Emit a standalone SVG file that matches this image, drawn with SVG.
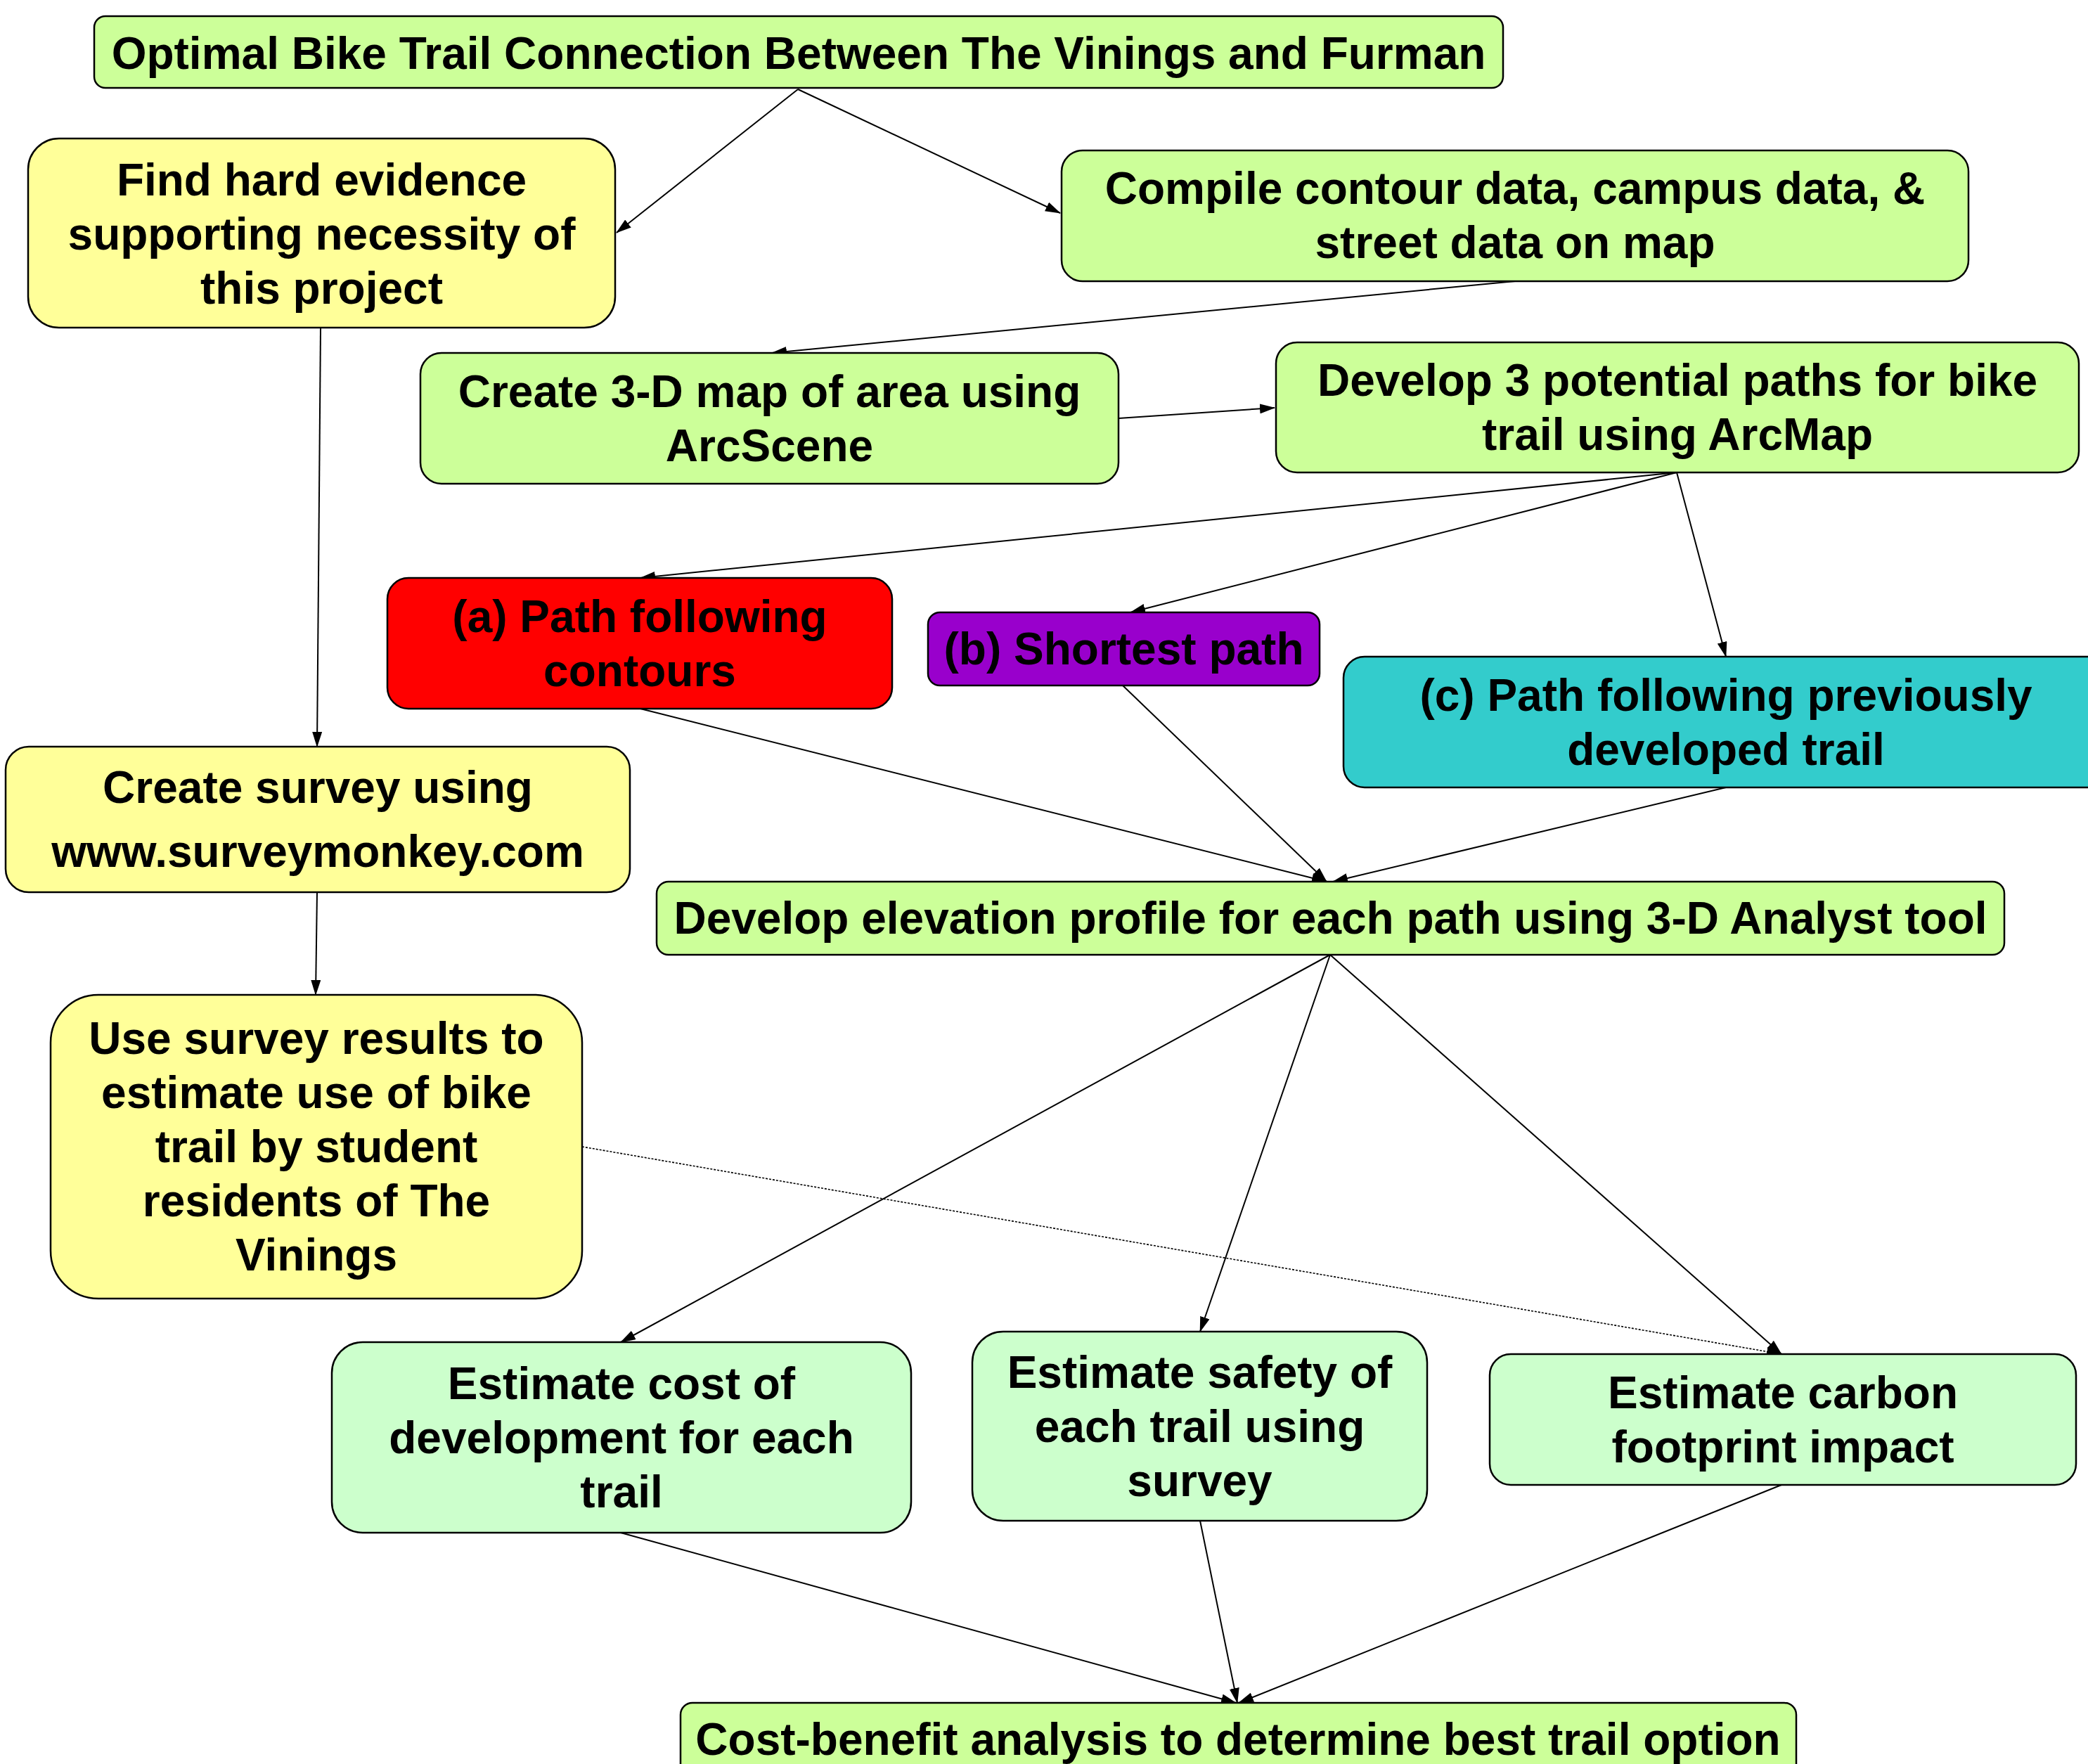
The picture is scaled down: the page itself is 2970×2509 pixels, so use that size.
<svg xmlns="http://www.w3.org/2000/svg" width="2970" height="2509" viewBox="0 0 2970 2509">
<style>
.n{stroke:#000;stroke-width:2.5}
.g{fill:#ccff99}.y{fill:#ffff99}.lg{fill:#ccffcc}.r{fill:#ff0000}.p{fill:#9900cc}.t{fill:#33cccc}
text{font-family:"Liberation Sans",Arial,sans-serif;font-weight:bold;font-size:64px;fill:#000;text-anchor:middle}
.e{stroke:#000;stroke-width:2;fill:none;marker-end:url(#ah)}
.d{stroke:#000;stroke-width:1.6;fill:none;stroke-dasharray:3,2;marker-end:url(#ah)}
</style>
<defs>
<marker id="ah" markerUnits="userSpaceOnUse" markerWidth="22" markerHeight="14" refX="21" refY="7" orient="auto">
<path d="M0,0 L22,7 L0,14 z" fill="#000"/>
</marker>
</defs>
<rect width="2970" height="2509" fill="#fff"/>
<g id="connectors">
<line class="e" x1="1135" y1="127" x2="877" y2="331"/>
<line class="e" x1="1135" y1="127" x2="1508" y2="303"/>
<line class="e" x1="2155" y1="400" x2="1098" y2="502"/>
<line class="e" x1="1591" y1="595" x2="1813" y2="580"/>
<line class="e" x1="2385" y1="672" x2="911" y2="822"/>
<line class="e" x1="2385" y1="672" x2="1608" y2="871"/>
<line class="e" x1="2385" y1="672" x2="2455" y2="934"/>
<line class="e" x1="456" y1="466" x2="451" y2="1062"/>
<line class="e" x1="451" y1="1269" x2="449" y2="1415"/>
<line class="e" x1="911" y1="1008" x2="1887" y2="1254"/>
<line class="e" x1="1597" y1="975" x2="1887" y2="1254"/>
<line class="e" x1="2455" y1="1120" x2="1896" y2="1254"/>
<line class="e" x1="1892" y1="1358" x2="883" y2="1909"/>
<line class="e" x1="1892" y1="1358" x2="1707" y2="1894"/>
<line class="e" x1="1892" y1="1358" x2="2534" y2="1926"/>
<line class="d" x1="828" y1="1631" x2="2534" y2="1926"/>
<line class="e" x1="883" y1="2180" x2="1758" y2="2422"/>
<line class="e" x1="1707" y1="2163" x2="1760" y2="2422"/>
<line class="e" x1="2534" y1="2112" x2="1762" y2="2422"/>
</g>
<g id="n-title">
<rect class="n g" x="134" y="23" width="2004" height="102" rx="16"/>
<text x="1136" y="98">Optimal Bike Trail Connection Between The Vinings and Furman</text>
</g>
<g id="n-evidence">
<rect class="n y" x="40" y="197" width="835" height="269" rx="44"/>
<text x="457.5" y="278">Find hard evidence</text>
<text x="457.5" y="355">supporting necessity of</text>
<text x="457.5" y="432">this project</text>
</g>
<g id="n-compile">
<rect class="n g" x="1510" y="214" width="1290" height="186" rx="30"/>
<text x="2155" y="290">Compile contour data, campus data, &amp;</text>
<text x="2155" y="367">street data on map</text>
</g>
<g id="n-3dmap">
<rect class="n g" x="598" y="502" width="993" height="186" rx="30"/>
<text x="1094.5" y="578.5">Create 3-D map of area using</text>
<text x="1094.5" y="655.5">ArcScene</text>
</g>
<g id="n-paths">
<rect class="n g" x="1815" y="487" width="1142" height="185" rx="30"/>
<text x="2386" y="563">Develop 3 potential paths for bike</text>
<text x="2386" y="640">trail using ArcMap</text>
</g>
<g id="n-a">
<rect class="n r" x="551" y="822" width="718" height="186" rx="30"/>
<text x="910" y="898.5">(a) Path following</text>
<text x="910" y="975.5">contours</text>
</g>
<g id="n-b">
<rect class="n p" x="1320" y="871" width="557" height="104" rx="17"/>
<text x="1598.5" y="945">(b) Shortest path</text>
</g>
<g id="n-c">
<rect class="n t" x="1911" y="934" width="1088" height="186" rx="30"/>
<text x="2455" y="1010.5">(c) Path following previously</text>
<text x="2455" y="1087.5">developed trail</text>
</g>
<g id="n-survey">
<rect class="n y" x="8" y="1062" width="888" height="207" rx="33"/>
<text x="452" y="1142">Create survey using</text>
<text x="452" y="1233">www.surveymonkey.com</text>
</g>
<g id="n-results">
<rect class="n y" x="72" y="1415" width="756" height="432" rx="68"/>
<text x="450" y="1499">Use survey results to</text>
<text x="450" y="1576">estimate use of bike</text>
<text x="450" y="1653">trail by student</text>
<text x="450" y="1730">residents of The</text>
<text x="450" y="1807">Vinings</text>
</g>
<g id="n-elevation">
<rect class="n g" x="934" y="1254" width="1917" height="104" rx="17"/>
<text x="1892.5" y="1328">Develop elevation profile for each path using 3-D Analyst tool</text>
</g>
<g id="n-cost">
<rect class="n lg" x="472" y="1909" width="824" height="271" rx="44"/>
<text x="884" y="1989.5">Estimate cost of</text>
<text x="884" y="2066.5">development for each</text>
<text x="884" y="2143.5">trail</text>
</g>
<g id="n-safety">
<rect class="n lg" x="1383" y="1894" width="647" height="269" rx="44"/>
<text x="1706.5" y="1974">Estimate safety of</text>
<text x="1706.5" y="2051">each trail using</text>
<text x="1706.5" y="2128">survey</text>
</g>
<g id="n-carbon">
<rect class="n lg" x="2119" y="1926" width="834" height="186" rx="30"/>
<text x="2536" y="2002.5">Estimate carbon</text>
<text x="2536" y="2079.5">footprint impact</text>
</g>
<g id="n-costbenefit">
<rect class="n g" x="968" y="2422" width="1587" height="104" rx="17"/>
<text x="1761" y="2496">Cost-benefit analysis to determine best trail option</text>
</g>
</svg>
